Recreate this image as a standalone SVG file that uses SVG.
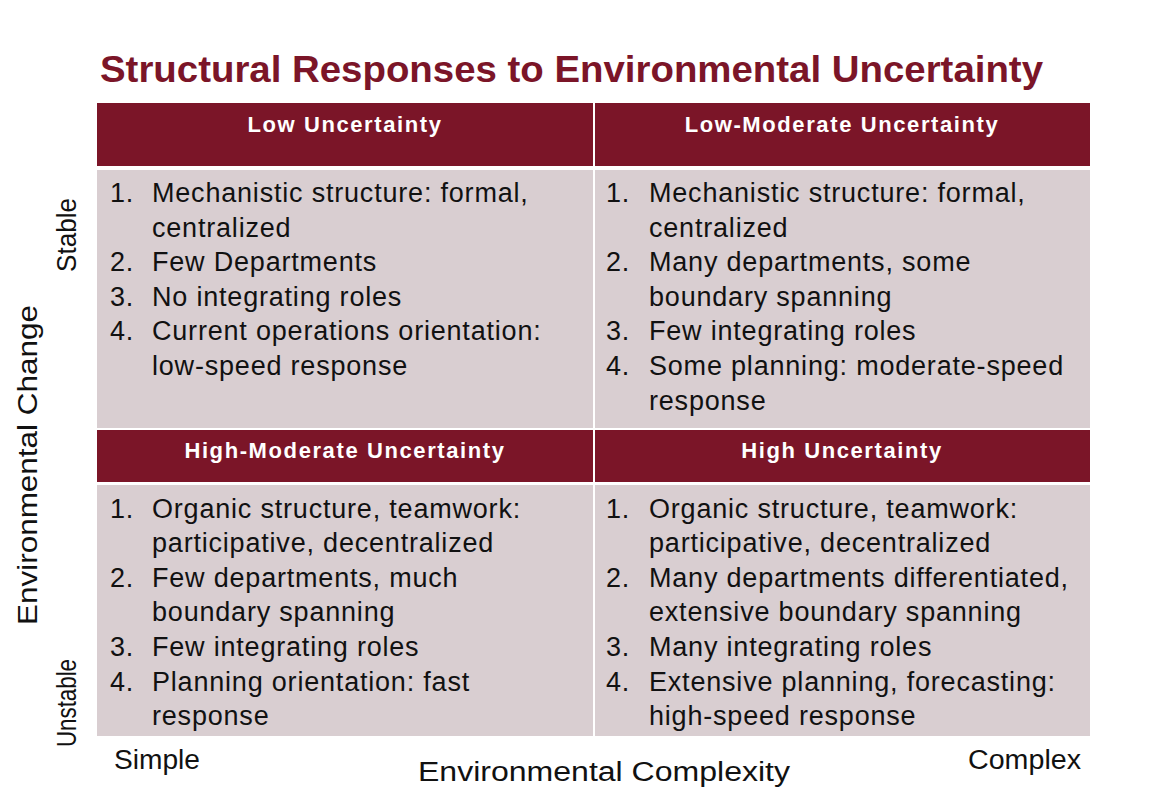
<svg xmlns="http://www.w3.org/2000/svg" width="1156" height="802" viewBox="0 0 1156 802">
<style>
.h{fill:#7b1528}
.b{fill:#d9ced1}
.ht{font-family:"Liberation Sans",Arial,sans-serif;font-weight:bold;font-size:22px;letter-spacing:1.6px;fill:#fff;text-anchor:middle}
.t{font-family:"Liberation Sans",Arial,sans-serif;font-size:27px;letter-spacing:0.8px;fill:#111}
.ax{font-family:"Liberation Sans",Arial,sans-serif;font-size:27px;fill:#111}
</style>
<rect width="1156" height="802" fill="#fff"/>
<text x="100" y="82" font-family="Liberation Sans,Arial,sans-serif" font-weight="bold" font-size="36" fill="#7b1528" textLength="943" lengthAdjust="spacingAndGlyphs">Structural Responses to Environmental Uncertainty</text>
<g id="q1">
<rect class="h" x="97" y="103" width="496" height="63"/>
<rect class="b" x="97" y="170" width="496" height="258"/>
<text class="ht" x="345" y="132">Low Uncertainty</text>
<text class="t"><tspan x="110" y="202">1.</tspan><tspan x="152" y="202">Mechanistic structure: formal,</tspan><tspan x="152" y="237">centralized</tspan><tspan x="110" y="271">2.</tspan><tspan x="152" y="271">Few Departments</tspan><tspan x="110" y="306">3.</tspan><tspan x="152" y="306">No integrating roles</tspan><tspan x="110" y="340">4.</tspan><tspan x="152" y="340">Current operations orientation:</tspan><tspan x="152" y="375">low-speed response</tspan></text>
</g>
<g id="q2">
<rect class="h" x="595" y="103" width="495" height="63"/>
<rect class="b" x="595" y="170" width="495" height="258"/>
<text class="ht" x="842" y="132">Low-Moderate Uncertainty</text>
<text class="t"><tspan x="606" y="202">1.</tspan><tspan x="649" y="202">Mechanistic structure: formal,</tspan><tspan x="649" y="237">centralized</tspan><tspan x="606" y="271">2.</tspan><tspan x="649" y="271">Many departments, some</tspan><tspan x="649" y="306">boundary spanning</tspan><tspan x="606" y="340">3.</tspan><tspan x="649" y="340">Few integrating roles</tspan><tspan x="606" y="375">4.</tspan><tspan x="649" y="375">Some planning: moderate-speed</tspan><tspan x="649" y="410">response</tspan></text>
</g>
<g id="q3">
<rect class="h" x="97" y="430" width="496" height="52"/>
<rect class="b" x="97" y="485" width="496" height="251"/>
<text class="ht" x="345" y="458">High-Moderate Uncertainty</text>
<text class="t"><tspan x="110" y="518">1.</tspan><tspan x="152" y="518">Organic structure, teamwork:</tspan><tspan x="152" y="552">participative, decentralized</tspan><tspan x="110" y="587">2.</tspan><tspan x="152" y="587">Few departments, much</tspan><tspan x="152" y="621">boundary spanning</tspan><tspan x="110" y="656">3.</tspan><tspan x="152" y="656">Few integrating roles</tspan><tspan x="110" y="691">4.</tspan><tspan x="152" y="691">Planning orientation: fast</tspan><tspan x="152" y="725">response</tspan></text>
</g>
<g id="q4">
<rect class="h" x="595" y="430" width="495" height="52"/>
<rect class="b" x="595" y="485" width="495" height="251"/>
<text class="ht" x="842" y="458">High Uncertainty</text>
<text class="t"><tspan x="606" y="518">1.</tspan><tspan x="649" y="518">Organic structure, teamwork:</tspan><tspan x="649" y="552">participative, decentralized</tspan><tspan x="606" y="587">2.</tspan><tspan x="649" y="587">Many departments differentiated,</tspan><tspan x="649" y="621">extensive boundary spanning</tspan><tspan x="606" y="656">3.</tspan><tspan x="649" y="656">Many integrating roles</tspan><tspan x="606" y="691">4.</tspan><tspan x="649" y="691">Extensive planning, forecasting:</tspan><tspan x="649" y="725">high-speed response</tspan></text>
</g>
<g id="connectors"/>
<g id="axes">
<text class="ax" transform="translate(37,625) rotate(-90)" textLength="320" lengthAdjust="spacingAndGlyphs">Environmental Change</text>
<text class="ax" transform="translate(76,272) rotate(-90)" textLength="74" lengthAdjust="spacingAndGlyphs">Stable</text>
<text class="ax" transform="translate(76,747) rotate(-90)" textLength="88" lengthAdjust="spacingAndGlyphs">Unstable</text>
<text class="ax" x="114" y="769" textLength="86" lengthAdjust="spacingAndGlyphs">Simple</text>
<text class="ax" x="418" y="781" textLength="372" lengthAdjust="spacingAndGlyphs">Environmental Complexity</text>
<text class="ax" x="968" y="769" textLength="113" lengthAdjust="spacingAndGlyphs">Complex</text>
</g>
</svg>
